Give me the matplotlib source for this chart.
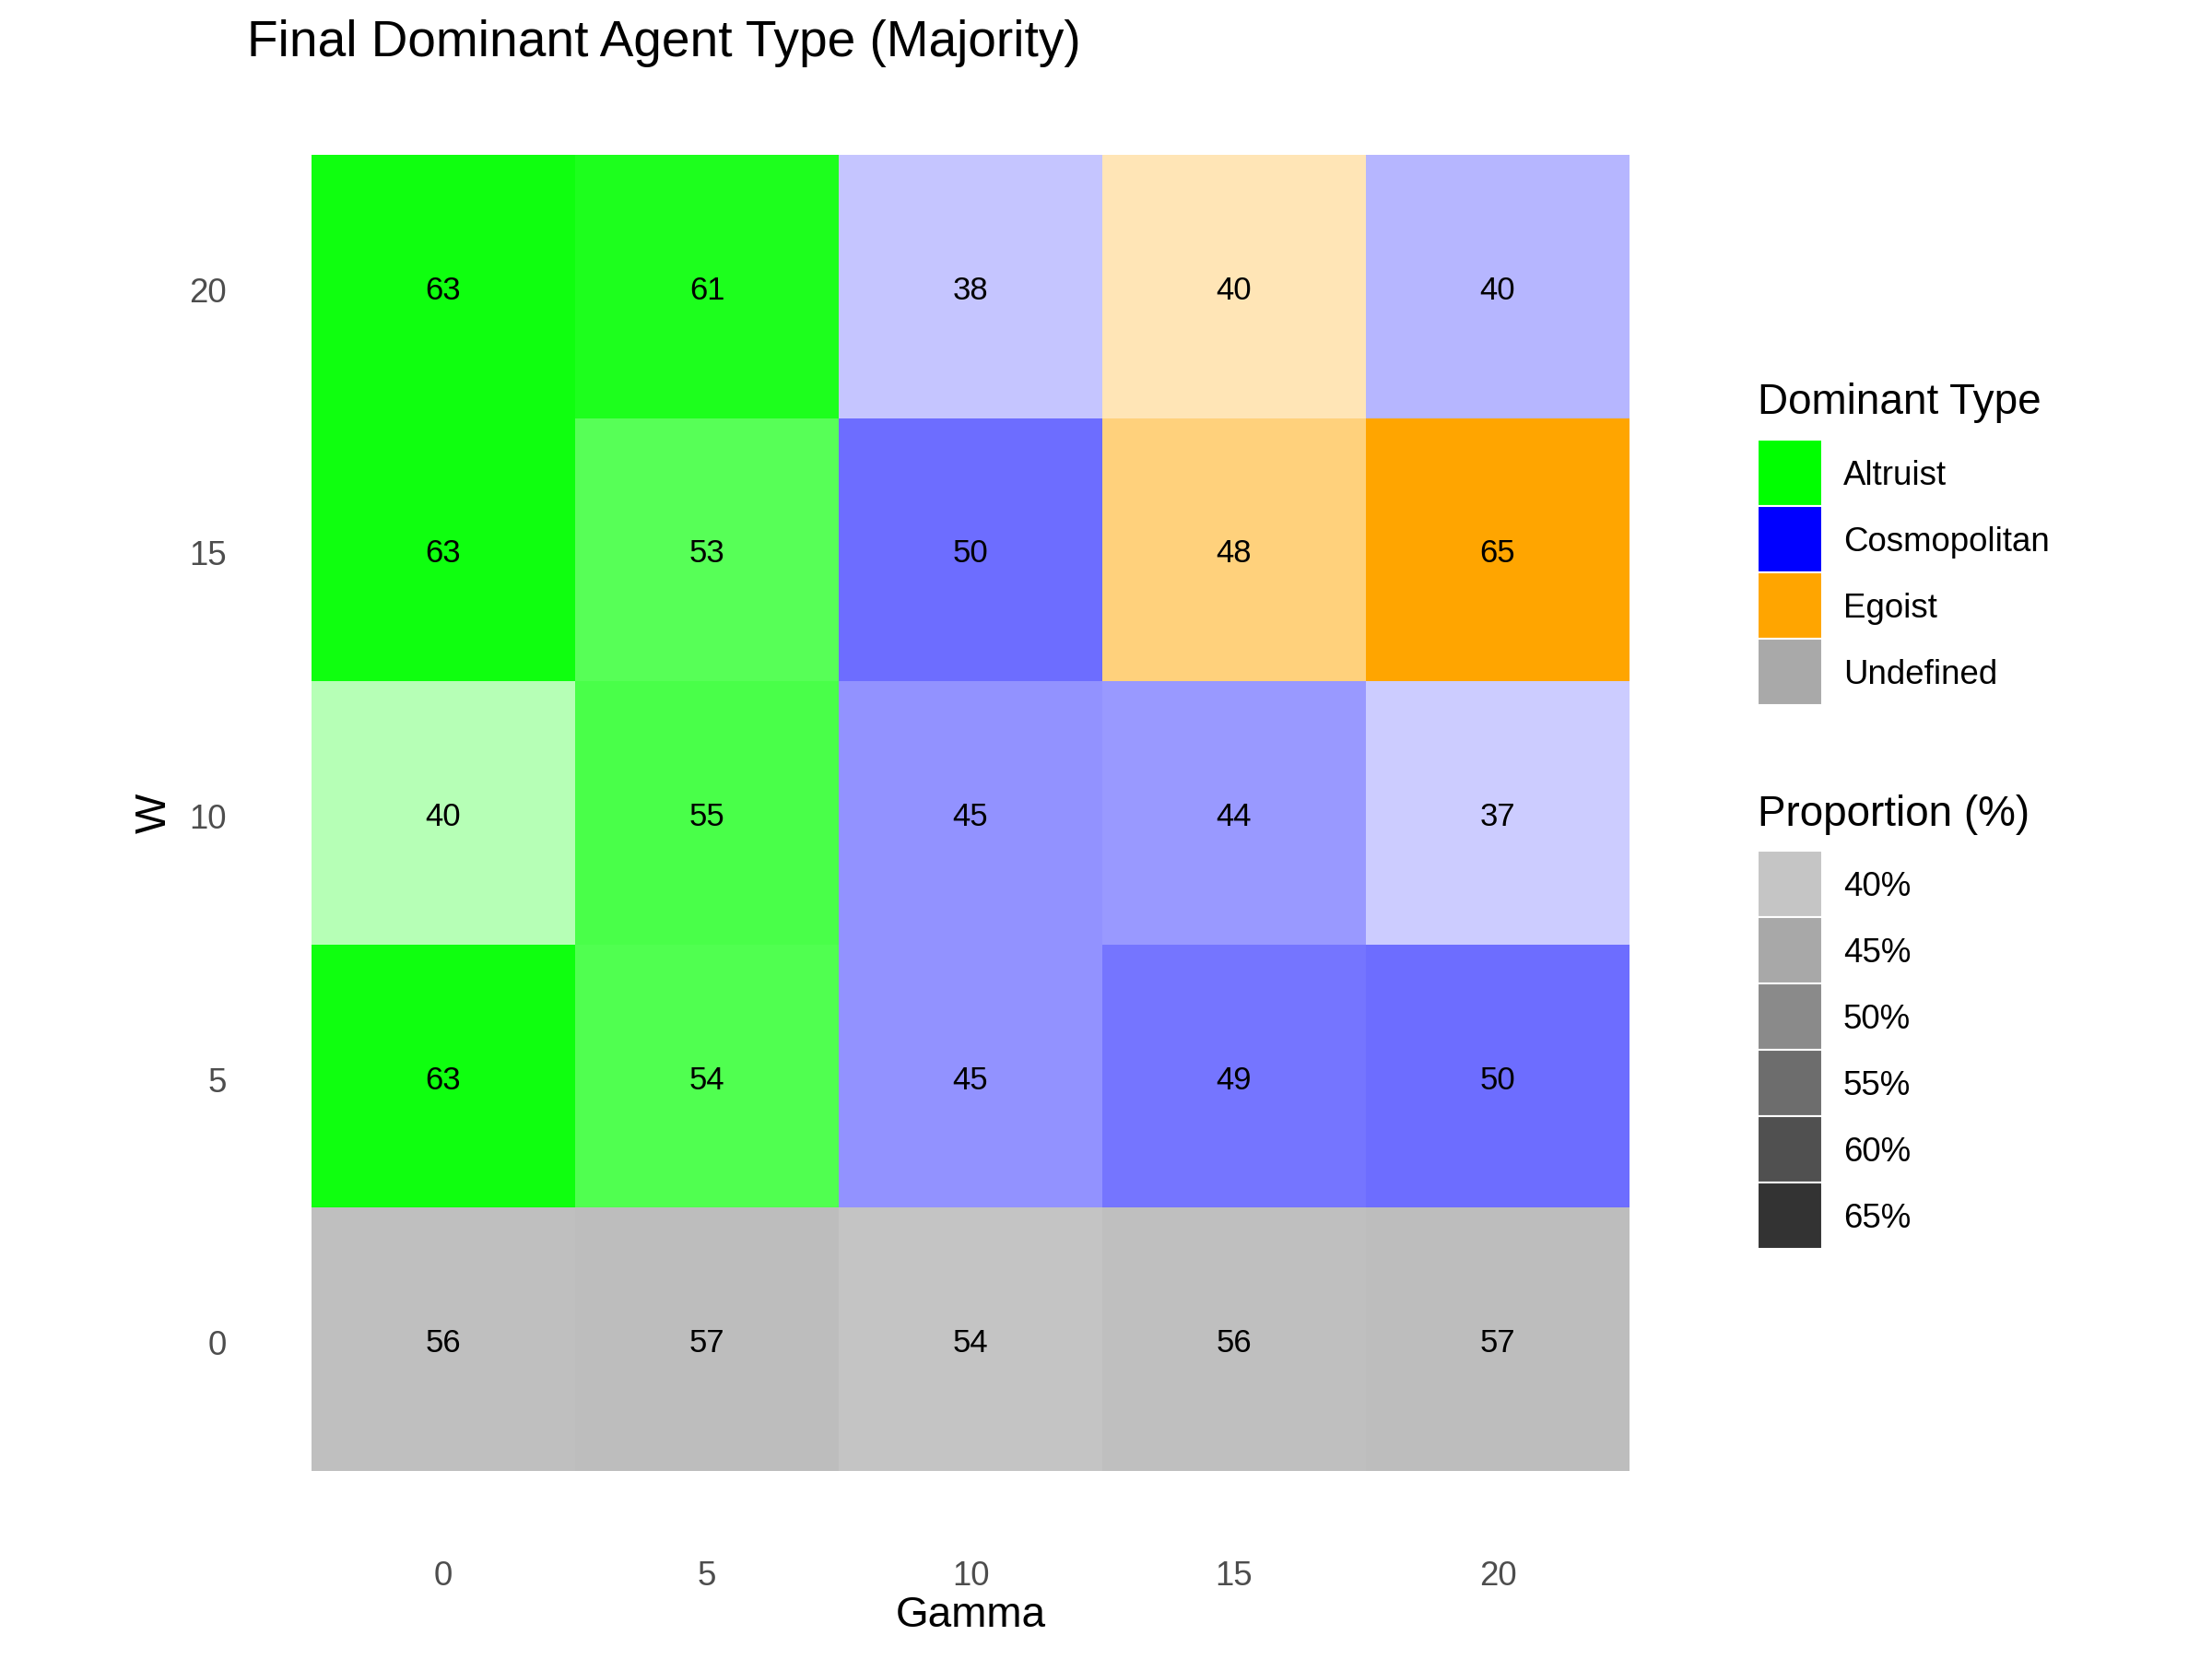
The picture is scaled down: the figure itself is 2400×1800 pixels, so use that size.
import matplotlib
matplotlib.use("Agg")
import matplotlib.pyplot as plt
from matplotlib.patches import Rectangle
from matplotlib.colors import to_rgb
from matplotlib.transforms import ScaledTranslation

plt.rcParams['font.family'] = ['Liberation Sans', 'DejaVu Sans']

# ---- data ----
gamma_vals = [0, 5, 10, 15, 20]
w_vals = [0, 5, 10, 15, 20]
# rows indexed by W (0..20), columns by Gamma (0..20)
proportion = [
    [56, 57, 54, 56, 57],   # W=0
    [63, 54, 45, 49, 50],   # W=5
    [40, 55, 45, 44, 37],   # W=10
    [63, 53, 50, 48, 65],   # W=15
    [63, 61, 38, 40, 40],   # W=20
]
dominant = [
    ["Undefined"] * 5,
    ["Altruist", "Altruist", "Cosmopolitan", "Cosmopolitan", "Cosmopolitan"],
    ["Altruist", "Altruist", "Cosmopolitan", "Cosmopolitan", "Cosmopolitan"],
    ["Altruist", "Altruist", "Cosmopolitan", "Egoist", "Egoist"],
    ["Altruist", "Altruist", "Cosmopolitan", "Egoist", "Cosmopolitan"],
]
type_names = ["Altruist", "Cosmopolitan", "Egoist", "Undefined"]
type_colors = {"Altruist": "#00FF00", "Cosmopolitan": "#0000FF",
               "Egoist": "#FFA500", "Undefined": "#A9A9A9"}
legend_props = [40, 45, 50, 55, 60, 65]

pmin = min(min(r) for r in proportion)
pmax = max(max(r) for r in proportion)

def alpha_of(p):
    return 0.2 + 0.8 * (p - pmin) / (pmax - pmin)

def blend(color, a):
    r, g, b = to_rgb(color)
    return (1 - a + a * r, 1 - a + a * g, 1 - a + a * b)

W, H = 2400, 1800
DPI = 300
fig = plt.figure(figsize=(8, 6), dpi=DPI)

def down(px):
    return ScaledTranslation(0, -px / DPI, fig.dpi_scale_trans)

# panel
px0, px1, py0, py1 = 266.5, 1839.5, 96.5, 1667.5
ax = fig.add_axes([px0 / W, 1 - py1 / H, (px1 - px0) / W, (py1 - py0) / H])
ax.set_xlim(-3.75, 23.75)
ax.set_ylim(-3.75, 23.75)
for s in ax.spines.values():
    s.set_visible(False)

for i, wv in enumerate(w_vals):
    for j, gv in enumerate(gamma_vals):
        p = proportion[i][j]
        c = blend(type_colors[dominant[i][j]], alpha_of(p))
        ax.add_patch(Rectangle((gv - 2.5, wv - 2.5), 5, 5, facecolor=c,
                               edgecolor='none'))
        ax.text(gv, wv, f"{p}", ha='center', va='center', fontsize=8.3,
                color='black', transform=ax.transData + down(4.5))

ax.set_xticks(gamma_vals)
ax.set_yticks(w_vals)
ax.set_xticklabels([str(v) for v in gamma_vals])
ax.set_yticklabels([str(v) for v in w_vals])
ax.tick_params(length=0, labelsize=8.8, labelcolor='#4D4D4D')
ax.tick_params(axis='x', pad=6.0)
ax.tick_params(axis='y', pad=5)
for lab in ax.get_yticklabels():
    lab.set_transform(lab.get_transform() + down(3.5))

fig.text((px0 + px1) / 2 / W, 1 - 1753 / H, "Gamma", ha='center', va='center',
         fontsize=11)
fig.text(168 / W, 1 - (py0 + py1) / 2 / H, "W", ha='center', va='center',
         rotation=90, fontsize=11)
fig.text(268 / W, 1 - 47 / H, "Final Dominant Agent Type (Majority)",
         ha='left', va='center', fontsize=13.2)

# legends (pixel overlay)
lg = fig.add_axes([0, 0, 1, 1])
lg.set_xlim(0, W)
lg.set_ylim(H, 0)
lg.axis('off')
kx, kw, kh = 1907, 70, 72
lg.text(kx, 437, "Dominant Type", ha='left', va='center', fontsize=11)
y = 477
for t in type_names:
    lg.add_patch(Rectangle((kx, y), kw, kh, facecolor=type_colors[t],
                           edgecolor='white', linewidth=0.5))
    lg.text(2000, y + kh / 2 + 4, t, ha='left', va='center', fontsize=8.8)
    y += kh

lg.text(kx, 884, "Proportion (%)", ha='left', va='center', fontsize=11)
y = 923
for p in legend_props:
    lg.add_patch(Rectangle((kx, y), kw, kh, facecolor=blend("#333333", alpha_of(p)),
                           edgecolor='white', linewidth=0.5))
    lg.text(2000, y + kh / 2 + 4, f"{p}%", ha='left', va='center', fontsize=8.8)
    y += kh

fig.savefig("out.png", dpi=DPI, facecolor='white')
